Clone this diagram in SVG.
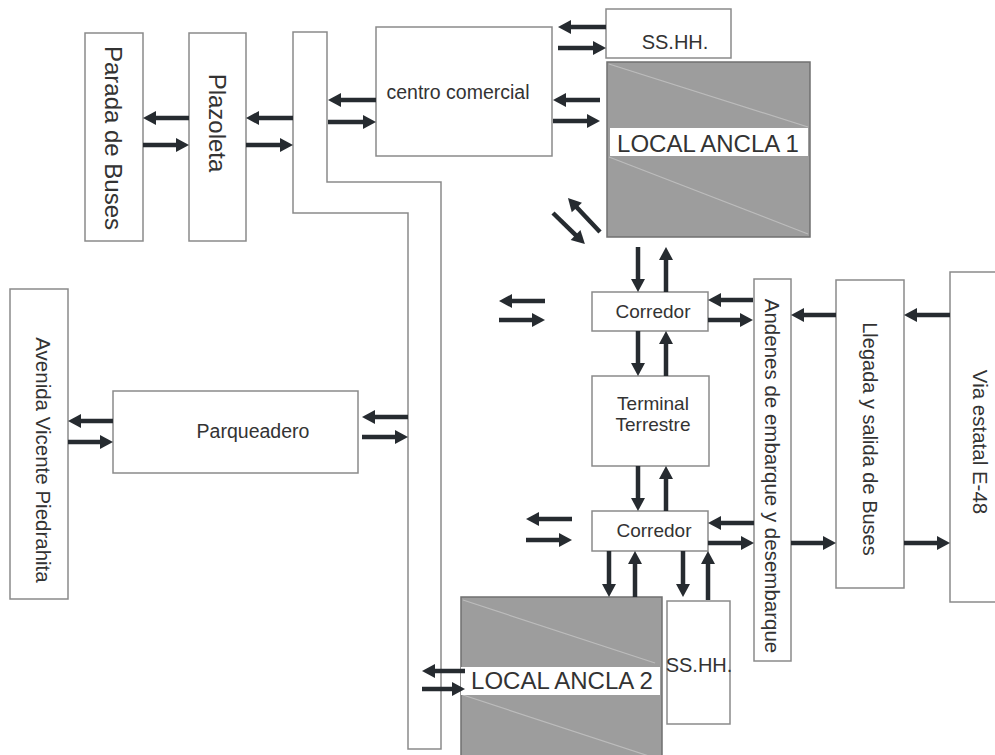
<svg xmlns="http://www.w3.org/2000/svg" width="995" height="755" viewBox="0 0 995 755">
<style>
.box{fill:#fff;stroke:#8a8a8a;stroke-width:1.5}
.dark{fill:#9d9d9d;stroke:#707070;stroke-width:1.5}
.band{fill:#fff;stroke:none}
.diag{stroke:#bcbcbc;stroke-width:1.2;fill:none}
.t{font-family:"Liberation Sans",Arial,sans-serif;fill:#333;text-anchor:middle}
.arr{stroke:#262b30;stroke-width:4.5;fill:none;marker-end:url(#ah)}
</style>
<defs>
<marker id="ah" markerUnits="userSpaceOnUse" markerWidth="14" markerHeight="14" refX="2" refY="7" orient="auto" overflow="visible">
<path d="M0,0 L13,7 L0,14 Z" fill="#262b30"/>
</marker>
</defs>
<rect width="995" height="755" fill="#fff"/>
<g id="parada"><rect class="box" x="85" y="33" width="58" height="208"/><text class="t" font-size="24" transform="translate(113,138) rotate(90)" dy="8.5">Parada de Buses</text></g>
<g id="plazoleta"><rect class="box" x="189" y="33" width="57" height="208"/><text class="t" font-size="24" transform="translate(217,123) rotate(90)" dy="8.5">Plazoleta</text></g>
<g id="pasillo"><polygon class="box" points="293,32 327,32 327,182 441,182 441,749 408,749 408,213 293,213"/></g>
<g id="centro"><rect class="box" x="376" y="27" width="176" height="129"/><text class="t" font-size="19.5" x="458" y="99">centro comercial</text></g>
<g id="sshh1"><rect class="box" x="606" y="9" width="125" height="49"/><text class="t" font-size="20" x="675" y="49">SS.HH.</text></g>
<g id="ancla1"><rect class="dark" x="607" y="62" width="203" height="175"/><line class="diag" x1="609" y1="64" x2="808" y2="127"/><line class="diag" x1="609" y1="157" x2="808" y2="234"/><rect class="band" x="610" y="128" width="198" height="28"/><text class="t" font-size="24" x="708" y="152">LOCAL ANCLA 1</text></g>
<g id="corredor1"><rect class="box" x="592" y="292" width="116" height="39"/><text class="t" font-size="19" x="653" y="318">Corredor</text></g>
<g id="terminal"><rect class="box" x="592" y="376" width="117" height="90"/><text class="t" font-size="19" x="653" y="410">Terminal</text><text class="t" font-size="19" x="653" y="431">Terrestre</text></g>
<g id="corredor2"><rect class="box" x="592" y="511" width="116" height="40"/><text class="t" font-size="19" x="654" y="537">Corredor</text></g>
<g id="andenes"><rect class="box" x="754" y="279" width="37" height="382"/><text class="t" font-size="20.5" transform="translate(772,476) rotate(90)" dy="7.3">Andenes de embarque y desembarque</text></g>
<g id="llegada"><rect class="box" x="836" y="280" width="68" height="308"/><text class="t" font-size="20" transform="translate(870,439) rotate(90)" dy="7.1">Llegada y salida de Buses</text></g>
<g id="via"><rect class="box" x="950" y="272" width="60" height="330"/><text class="t" font-size="20.5" transform="translate(980,442) rotate(90)" dy="7.3">Via estatal E-48</text></g>
<g id="avenida"><rect class="box" x="10" y="289" width="58" height="310"/><text class="t" font-size="20.5" transform="translate(43,460) rotate(90)" dy="7.3">Avenida Vicente Piedrahita</text></g>
<g id="parqueadero"><rect class="box" x="113" y="391" width="245" height="82"/><text class="t" font-size="19.5" x="253" y="438">Parqueadero</text></g>
<g id="ancla2"><rect class="dark" x="461" y="597" width="201" height="165"/><line class="diag" x1="463" y1="600" x2="655" y2="663"/><line class="diag" x1="463" y1="695" x2="655" y2="758"/><rect class="band" x="461" y="667" width="199" height="28"/><text class="t" font-size="24" x="562" y="689">LOCAL ANCLA 2</text></g>
<g id="sshh2"><rect class="box" x="667" y="601" width="63" height="123"/><text class="t" font-size="20" x="699" y="672">SS.HH.</text></g>
<g id="connectors">
<path class="arr" d="M189,118H154"/><path class="arr" d="M143,145H178"/>
<path class="arr" d="M293,118H257"/><path class="arr" d="M246,145H282"/>
<path class="arr" d="M376,100H339"/><path class="arr" d="M328,122H365"/>
<path class="arr" d="M606,27H569"/><path class="arr" d="M558,48H595"/>
<path class="arr" d="M600,100H564"/><path class="arr" d="M553,121H589"/>
<path class="arr" d="M600,232L575.5,206"/><path class="arr" d="M553,213L577,236.4"/>
<path class="arr" d="M638,247V281"/><path class="arr" d="M666,292V258"/>
<path class="arr" d="M545,301H510"/><path class="arr" d="M499,320H534"/>
<path class="arr" d="M753,300H719"/><path class="arr" d="M708,320H742"/>
<path class="arr" d="M836,315H802"/><path class="arr" d="M950,315H915"/>
<path class="arr" d="M791,543H825"/><path class="arr" d="M904,543H939"/>
<path class="arr" d="M638,331V365"/><path class="arr" d="M666,376V342"/>
<path class="arr" d="M638,466V500"/><path class="arr" d="M666,511V477"/>
<path class="arr" d="M572,519H537"/><path class="arr" d="M526,540H561"/>
<path class="arr" d="M754,523H719"/><path class="arr" d="M708,543H743"/>
<path class="arr" d="M609,551V586"/><path class="arr" d="M635,597V562"/>
<path class="arr" d="M683,551V586"/><path class="arr" d="M708,600V562"/>
<path class="arr" d="M465,671H433"/><path class="arr" d="M422,689H454"/>
<path class="arr" d="M113,421H79"/><path class="arr" d="M68,442H102"/>
<path class="arr" d="M408,417H373"/><path class="arr" d="M362,437H397"/>
</g>
</svg>
